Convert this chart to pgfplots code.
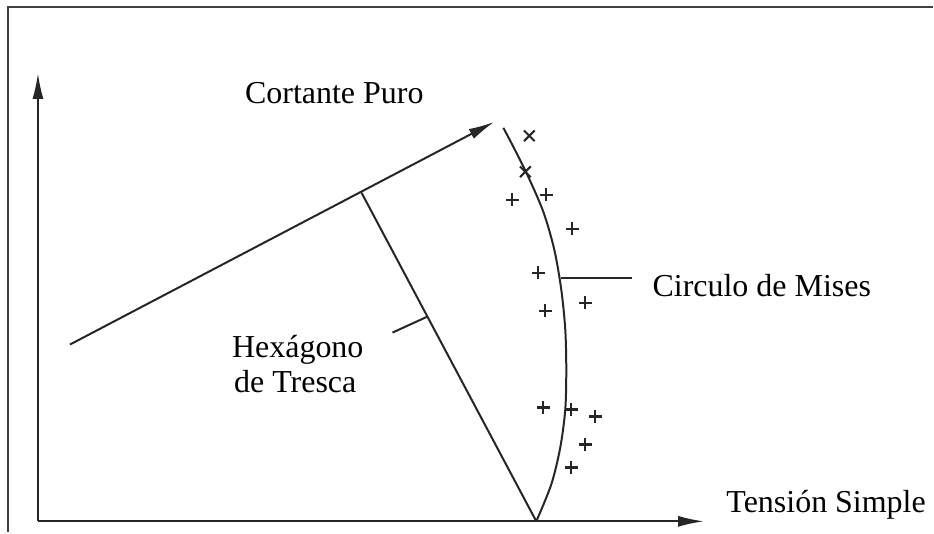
\documentclass[border=0pt]{standalone}
\usepackage{pgfplots}
\pgfplotsset{compat=1.18}
\usepackage{fontspec}
\setmainfont{Liberation Serif}
\usetikzlibrary{arrows.meta}
\begin{document}
\begin{tikzpicture}
\begin{axis}[
  width=467bp, height=266.5bp, scale only axis,
  xmin=0, xmax=934, ymin=0, ymax=533, y dir=reverse,
  hide axis, clip=false,
  ln/.style={line width=1bp, color=black!85, mark=none, solid},
  arr/.style={ln, -{Latex[length=13bp,width=5.5bp]}},
]
\path (rel axis cs:0,0) rectangle (rel axis cs:1,1);
% frame
\addplot[ln, line width=1.2bp, color=black!75] coordinates {(8,533) (8,7) (934,7)};
% axes
\addplot[arr] coordinates {(38,522) (38,73)};
\addplot[arr] coordinates {(38,522) (705,522)};
% pure shear line
\addplot[arr] coordinates {(70,345) (495,122)};
% Tresca side
\addplot[ln] coordinates {(362,193) (537,522)};
% Mises arc
\addplot[ln, smooth] coordinates {(537,522) (552,485) (561,448) (566,410) (567,370) (566,330) (562,290) (555,250) (544,212) (528,175) (514,147) (504,128)};
% leaders
\addplot[ln] coordinates {(562,278) (633,278)};
\addplot[ln] coordinates {(393,333) (428,317)};
% experimental points
\addplot[only marks, color=black!85, mark=x, mark size=3.8bp, mark options={line width=1bp, solid}] coordinates {(530,136) (526,172)};
\addplot[only marks, color=black!85, mark=+, mark size=3.2bp, mark options={line width=1.1bp, solid}] coordinates {
(513,200) (547,195) (573,229) (539,273) (586,303) (546,311)
(544,408) (572,410) (596,417) (586,445) (572,468)};
% labels
\begin{scope}[every node/.style={font=\rmfamily\fontsize{16bp}{19bp}\selectfont, inner sep=0pt, anchor=base west}]
\node at (axis cs:245,104) {Cortante Puro};
\node at (axis cs:653,297) {Circulo de Mises};
\node at (axis cs:727,513) {Tensión Simple};
\node at (axis cs:232,358) {Hexágono};
\node at (axis cs:234,393) {de Tresca};
\end{scope}
\end{axis}
\end{tikzpicture}
\end{document}
